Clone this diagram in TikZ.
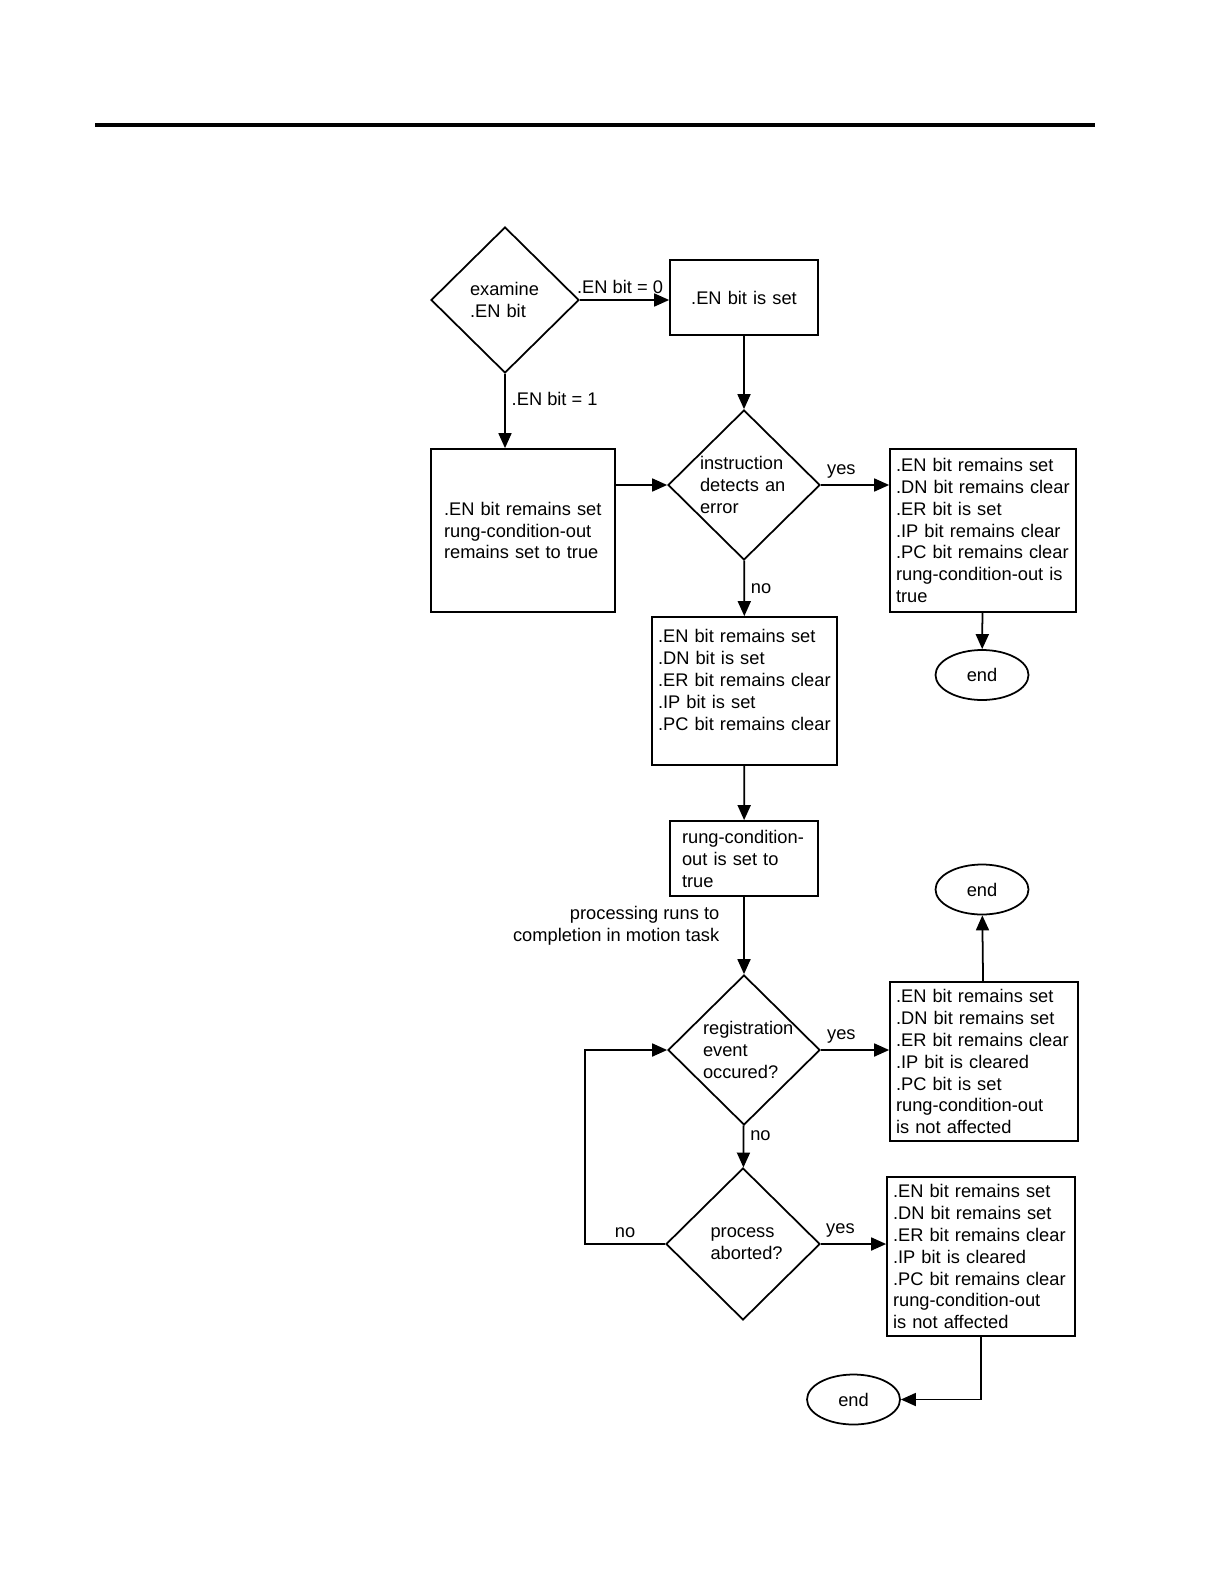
\documentclass[tikz,border=0pt]{standalone}
\usepackage{fontspec}
\setmainfont{Liberation Sans}
\usetikzlibrary{arrows.meta}
\usetikzlibrary{shapes}

\begin{document}
\begin{tikzpicture}[x=0.02cm, y=-0.02cm, line width=1pt, line join=miter, >={Triangle[length=0.3cm,width=0.26cm]},
  font=\fontsize{10.4}{12.5}\selectfont,
  ask/.style={diamond, draw, minimum width=3.04cm, minimum height=3cm, inner sep=0pt, text width=1.4cm, align=left},
  bits/.style={rectangle, draw, inner xsep=0.12cm, inner ysep=0pt, align=left},
  finish/.style={ellipse, draw, minimum width=1.86cm, minimum height=1cm, inner sep=0pt}]

\useasboundingbox (0,0) rectangle (1224,1584);
\draw[line width=2.3pt] (95,125) -- (1095,125);

% first check
\node[ask, minimum width=2.96cm, minimum height=2.92cm] (exam) at (505,300) {examine\\.EN bit};
\node[bits, text width=2.72cm, minimum height=1.5cm, align=center] (set) at (744,297.5) {.EN bit is set};
\node[bits, inner xsep=0.26cm, text width=3.16cm, minimum height=3.26cm] (keep) at (523,530.5) {.EN bit remains set\\rung-condition-out\\remains set to true};

\draw[->] (exam.east) -- node[above, pos=.45] {.EN bit = 0} (exam.east -| set.west);
\draw[->] (exam.south) -- node[right, pos=.34] {.EN bit = 1} (exam.south |- keep.north);

% error check
\node[ask, text width=1.76cm] (err) at (744,485) {instruction\\detects an\\error};
\node[bits, text width=3.48cm, minimum height=3.26cm] (errbits) at (983,530.5) {.EN bit remains set\\.DN bit remains clear\\.ER bit is set\\.IP bit remains clear\\.PC bit remains clear\\rung-condition-out is\\true};
\node[finish] (end1) at (982,675) {end};
\node[bits, text width=3.46cm, minimum height=2.96cm] (okbits) at (744.5,691) {.EN bit remains set\\.DN bit is set\\.ER bit remains clear\\.IP bit is set\\.PC bit remains clear\\\mbox{}};
\node[bits, inner xsep=0.24cm, text width=2.48cm, minimum height=1.5cm] (rung) at (744,858.5) {rung-condition-\\out is set to\\true};

\draw[->] (set) -- (err);
\draw[->] (keep.east |- err.west) -- (err.west);
\draw[->] (err.east) -- node[above, pos=.3] {yes} (err.east -| errbits.west);
\draw[->] (errbits) -- (end1);
\draw[->] (err) -- node[right] {no} (okbits);
\draw[->] (okbits) -- (rung);

% motion task
\node[align=right, anchor=east] (runs) at (726,926) {processing runs to\\completion in motion task};
\node[ask, text width=1.64cm] (reg) at (744,1050) {registration\\event\\occured?};
\node[bits, text width=3.52cm, minimum height=3.18cm] (regbits) at (984,1061.5) {.EN bit remains set\\.DN bit remains set\\.ER bit remains clear\\.IP bit is cleared\\.PC bit is set\\rung-condition-out\\is not affected};
\node[finish] (end2) at (982,889.5) {end};
\node[ask, minimum width=3.08cm, minimum height=3.04cm, text width=1.3cm] (abort) at (743,1244) {process\\aborted?};
\node[bits, text width=3.52cm, minimum height=3.18cm] (abortbits) at (981,1256.5) {.EN bit remains set\\.DN bit remains set\\.ER bit remains clear\\.IP bit is cleared\\.PC bit remains clear\\rung-condition-out\\is not affected};
\node[finish] (end3) at (853.5,1399.5) {end};

\draw[->] (rung) -- (reg);
\draw[->] (reg.east) -- node[above, pos=.3] {yes} (reg.east -| regbits.west);
\draw[->] (regbits) -- (end2);
\draw[->] (reg) -- node[right, pos=.25] {no} (abort);
\draw[->] (abort.east) -- node[above, pos=.3] {yes} (abort.east -| abortbits.west);
\draw[->] (abortbits.south) |- (end3.east);
\draw[->] (abort.west) -- node[above] {no} ++(-80,0) |- (reg.west);

\end{tikzpicture}
\end{document}
